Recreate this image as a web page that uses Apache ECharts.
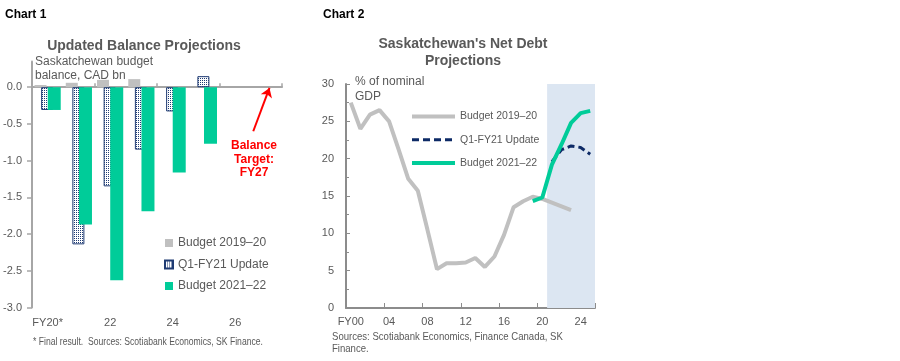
<!DOCTYPE html>
<html><head><meta charset="utf-8">
<script src="https://cdn.jsdelivr.net/npm/echarts@6/dist/echarts.min.js"></script>
<style>html,body{margin:0;padding:0;background:#fff}#c{width:900px;height:361px}</style>
</head><body><div id="c"></div>
<script>
// ---------- Chart 1 data ----------
const balanceCategories = ['FY20*', '21', '22', '23', '24', '25', '26', '27'];
const balanceBudget1920 = [0.03, 0.06, 0.10, 0.11, null, null, null, null];
const balanceQ1FY21     = [-0.31, -2.14, -1.35, -0.85, -0.33, 0.15, null, null];
const balanceBudget2122 = [-0.31, -1.87, -2.63, -1.69, -1.16, -0.77, null, null];
const balanceTickValues = [-3, -2.5, -2, -1.5, -1, -0.5, 0];
const balanceArrow = [[7.08, -0.60], [7.6, -0.01]];

// ---------- Chart 2 data ----------
const debtYears = ['FY00','01','02','03','04','05','06','07','08','09','10','11','12',
                   '13','14','15','16','17','18','19','20','21','22','23','24','25'];
const debtBudget1920 = [27.5, 24.0, 25.9, 26.5, 25.0, 21.2, 17.3, 15.7, 10.5, 5.2, 6.0, 6.0, 6.1,
                        6.7, 5.5, 6.9, 9.8, 13.5, 14.3, 14.9, 14.6, 14.1, 13.6, 13.1, null, null];
const debtQ1FY21 = [null, null, null, null, null, null, null, null, null, null, null, null, null,
                    null, null, null, null, null, null, null, null, 19.6, 21.2, 21.7, 21.5, 20.6];
const debtBudget2122 = [null, null, null, null, null, null, null, null, null, null, null, null, null,
                        null, null, null, null, null, null, 14.3, 14.8, 19.2, 21.9, 24.8, 26.1, 26.4];
const debtShade = [21, 26];

const SANS = '"Liberation Sans", Arial, sans-serif';
const TXT = '#595959';
const GREEN = '#00cc99';
const NAVY = '#0d2a66';
const GRAYBAR = '#c0c0c0';
const GRAYLINE = '#c0c0c0';

// dotted pattern for the Q1-FY21 bars
const pc = document.createElement('canvas');
pc.width = 2; pc.height = 2;
const pctx = pc.getContext('2d');
pctx.fillStyle = '#ffffff'; pctx.fillRect(0, 0, 2, 2);
pctx.fillStyle = '#1f3b73'; pctx.fillRect(0, 0, 1, 1);

const chart = echarts.init(document.getElementById('c'), null, {renderer: 'canvas'});

const option = {
  animation: false,
  backgroundColor: '#ffffff',
  grid: [
    {left: 32, top: 61.5, width: 250, height: 246, containLabel: false},
    {left: 346, top: 84, width: 249, height: 224, containLabel: false}
  ],
  xAxis: [
    { // 0: chart 1 labels at bottom
      type: 'category', gridIndex: 0, data: balanceCategories, position: 'bottom',
      axisLine: {show: false, onZero: false}, axisTick: {show: false},
      axisLabel: {interval: 1, margin: 10, color: TXT, fontFamily: SANS, fontSize: 11},
      splitLine: {show: false}
    },
    { // 1: chart 1 zero line with ticks
      type: 'category', gridIndex: 0, data: balanceCategories, position: 'top',
      axisLine: {show: true, onZero: true, lineStyle: {color: '#a6a6a6', width: 2}},
      axisTick: {show: true, interval: 1, length: 4, lineStyle: {color: '#a6a6a6', width: 1.5}},
      axisLabel: {show: false}, splitLine: {show: false}
    },
    { // 2: hidden value axis for the annotation arrow
      type: 'value', gridIndex: 0, min: 0, max: 8, show: false
    },
    { // 3: chart 2 category axis
      type: 'category', gridIndex: 1, data: debtYears, position: 'bottom',
      axisLine: {show: true, onZero: false, lineStyle: {color: '#8c8c8c', width: 2}},
      axisTick: {show: true, inside: true, interval: 3, length: 5, lineStyle: {color: '#8c8c8c', width: 1}},
      axisLabel: {interval: 3, margin: 8, color: TXT, fontFamily: SANS, fontSize: 11},
      splitLine: {show: false}
    },
    { // 4: hidden value axis for shading
      type: 'value', gridIndex: 1, min: 0, max: 26, show: false
    }
  ],
  yAxis: [
    {
      type: 'value', gridIndex: 0, min: -3, max: 0.35, interval: 0.5,
      axisLine: {show: true, lineStyle: {color: '#a6a6a6', width: 2}},
      axisTick: {show: true, length: 5, customValues: balanceTickValues, lineStyle: {color: '#a6a6a6', width: 1.5}},
      axisLabel: {customValues: balanceTickValues, margin: 10, color: TXT, fontFamily: SANS, fontSize: 11,
                  formatter: v => v.toFixed(1)},
      splitLine: {show: false}
    },
    {
      type: 'value', gridIndex: 1, min: 0, max: 30, interval: 5,
      axisLine: {show: true, lineStyle: {color: '#8c8c8c', width: 2}},
      axisTick: {show: true, inside: true, length: 4, lineStyle: {color: '#8c8c8c', width: 1}},
      minorTick: {show: true, splitNumber: 2, length: 3, lineStyle: {color: '#8c8c8c', width: 1}},
      axisLabel: {margin: 12, color: TXT, fontFamily: SANS, fontSize: 11},
      splitLine: {show: false}
    }
  ],
  legend: [
    {
      left: 164, top: 237, padding: 0, orient: 'vertical', itemWidth: 8, itemHeight: 8, itemGap: 9.5,
      selectedMode: false, icon: 'rect',
      textStyle: {color: TXT, fontFamily: SANS, fontSize: 12},
      data: ['Budget 2019–20', 'Q1-FY21 Update', 'Budget 2021–22']
    },
    {
      left: 410, top: 111, padding: 0, orient: 'vertical', itemWidth: 43, itemHeight: 14, itemGap: 12,
      selectedMode: false,
      itemStyle: {opacity: 0},
      textStyle: {color: TXT, fontFamily: SANS, fontSize: 10.5},
      data: [
        {name: 'Budget 2019–20 ', lineStyle: {width: 4, color: GRAYLINE}},
        {name: 'Q1-FY21 Update ', lineStyle: {width: 3, color: NAVY, type: [7, 4]}},
        {name: 'Budget 2021–22 ', lineStyle: {width: 4, color: GREEN}}
      ]
    }
  ],
  series: [
    // ---- chart 1 ----
    {
      name: 'Budget 2019–20', type: 'bar', xAxisIndex: 0, yAxisIndex: 0,
      data: balanceBudget1920, barWidth: 12, barGap: '-45%',
      itemStyle: {color: GRAYBAR}
    },
    {
      name: 'Q1-FY21 Update', type: 'bar', xAxisIndex: 0, yAxisIndex: 0,
      data: balanceQ1FY21, barWidth: 12, barGap: '-45%',
      itemStyle: {color: {image: pc, repeat: 'repeat'}, borderColor: '#1f3b73', borderWidth: 1}
    },
    {
      name: 'Budget 2021–22', type: 'bar', xAxisIndex: 0, yAxisIndex: 0,
      data: balanceBudget2122, barWidth: 13, barGap: '-45%',
      itemStyle: {color: GREEN}
    },
    {
      name: 'arrow', type: 'line', xAxisIndex: 2, yAxisIndex: 0, data: [],
      markLine: {
        silent: true, symbol: ['none', 'arrow'], symbolSize: 9,
        label: {show: false},
        lineStyle: {color: '#ff0000', width: 2, type: 'solid'},
        data: [[{coord: balanceArrow[0]}, {coord: balanceArrow[1]}]]
      }
    },
    // ---- chart 2 ----
    {
      name: 'shade', type: 'line', xAxisIndex: 4, yAxisIndex: 1, data: [],
      markArea: {
        silent: true, itemStyle: {color: '#dce6f2', opacity: 1},
        data: [[{xAxis: debtShade[0]}, {xAxis: debtShade[1]}]]
      }
    },
    {
      name: 'Budget 2019–20 ', type: 'line', xAxisIndex: 3, yAxisIndex: 1,
      data: debtBudget1920, symbol: 'none', lineStyle: {color: GRAYLINE, width: 4},
      itemStyle: {color: GRAYLINE}
    },
    {
      name: 'Q1-FY21 Update ', type: 'line', xAxisIndex: 3, yAxisIndex: 1,
      data: debtQ1FY21, symbol: 'none', lineStyle: {color: NAVY, width: 3, type: [7, 4]},
      itemStyle: {color: NAVY}
    },
    {
      name: 'Budget 2021–22 ', type: 'line', xAxisIndex: 3, yAxisIndex: 1,
      data: debtBudget2122, symbol: 'none', lineStyle: {color: GREEN, width: 4},
      itemStyle: {color: GREEN}
    }
  ],
  graphic: [
    {type: 'text', x: 5, y: 15, style: {text: 'Chart 1', fill: '#000', font: 'bold 12px ' + SANS, verticalAlign: 'middle'}},
    {type: 'text', x: 144, y: 46, style: {text: 'Updated Balance Projections', fill: TXT, font: 'bold 14px ' + SANS, align: 'center', verticalAlign: 'middle'}},
    {type: 'text', x: 35, y: 55, style: {text: 'Saskatchewan budget\nbalance, CAD bn', fill: TXT, font: '12px ' + SANS, lineHeight: 14, verticalAlign: 'top'}},
    {type: 'text', x: 254, y: 139, style: {text: 'Balance\nTarget:\nFY27', fill: '#ff0000', font: 'bold 12px ' + SANS, lineHeight: 13.5, align: 'center', verticalAlign: 'top'}},
    {type: 'text', x: 33, y: 342, scaleX: 0.86, style: {text: '* Final result.  Sources: Scotiabank Economics, SK Finance.', fill: TXT, font: '10px ' + SANS, verticalAlign: 'middle'}},
    {type: 'text', x: 323, y: 15, style: {text: 'Chart 2', fill: '#000', font: 'bold 12px ' + SANS, verticalAlign: 'middle'}},
    {type: 'text', x: 463, y: 35.5, style: {text: "Saskatchewan's Net Debt\nProjections", fill: TXT, font: 'bold 14px ' + SANS, lineHeight: 17, align: 'center', verticalAlign: 'top'}},
    {type: 'text', x: 355, y: 74.5, style: {text: '% of nominal\nGDP', fill: TXT, font: '12px ' + SANS, lineHeight: 15, verticalAlign: 'top'}},
    {type: 'text', x: 332, y: 330.5, scaleX: 0.87, style: {text: 'Sources: Scotiabank Economics, Finance Canada, SK\nFinance.', fill: TXT, font: '11px ' + SANS, lineHeight: 12, verticalAlign: 'top'}}
  ]
};
chart.setOption(option);
</script>
</body></html>
